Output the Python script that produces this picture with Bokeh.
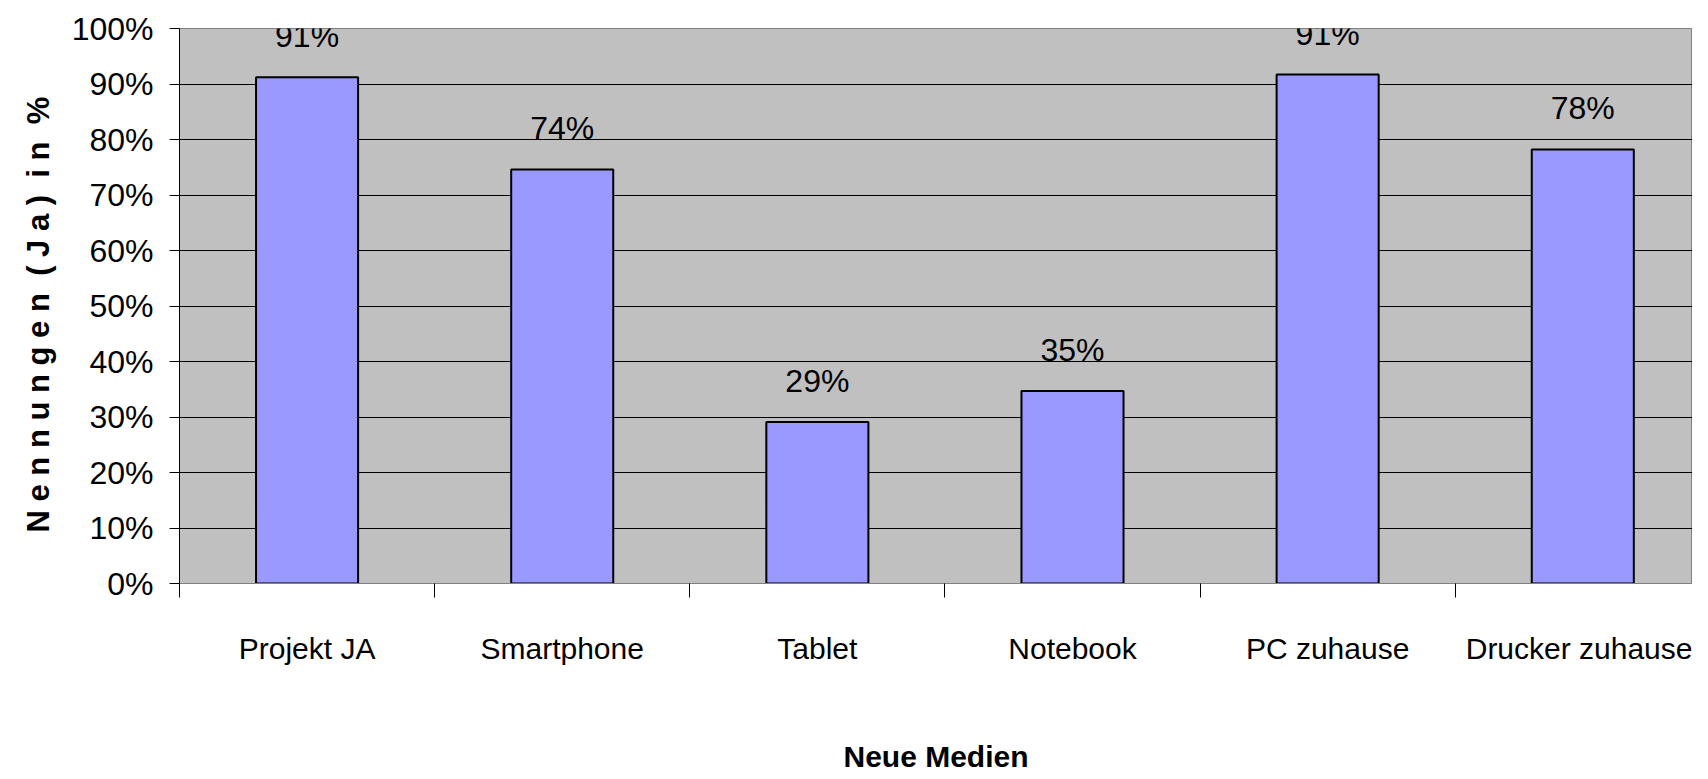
from bokeh.plotting import figure
from bokeh.models import ColumnDataSource, FixedTicker, Range1d, LabelSet
from bokeh.core.properties import value
from bokeh.embed import file_html
from bokeh.resources import INLINE

# ---- data ----
categories = ["Projekt JA", "Smartphone", "Tablet", "Notebook", "PC zuhause", "Drucker zuhause"]
values = [0.912, 0.746, 0.291, 0.347, 0.917, 0.782]
value_labels = ["91%", "74%", "29%", "35%", "91%", "78%"]
y_ticks = [0.0, 0.1, 0.2, 0.3, 0.4, 0.5, 0.6, 0.7, 0.8, 0.9, 1.0]
y_tick_labels = ["0%", "10%", "20%", "30%", "40%", "50%", "60%", "70%", "80%", "90%", "100%"]
x_title = "Neue Medien"
y_title = ("N\u00a0e\u00a0n\u00a0n\u00a0u\u00a0n\u00a0g\u00a0e\u00a0n\u00a0\u00a0(\u00a0J\u00a0a\u00a0)"
           "\u00a0\u00a0i\u00a0n\u00a0\u00a0%\u00a0\u00a0")

FONT = "Liberation Sans"

centers = [i + 0.5 for i in range(len(categories))]
src = ColumnDataSource(dict(x=centers, top=values, lab=value_labels))

p = figure(width=1692, height=779, output_backend="svg", toolbar_location=None,
           x_range=Range1d(0, 5.93), y_range=Range1d(0, 1),
           min_border_left=179, min_border_right=0, min_border_top=28, min_border_bottom=196)

p.background_fill_color = "#C0C0C0"
p.border_fill_color = "white"
p.outline_line_color = "#808080"
p.outline_line_width = 1

p.vbar(x="x", top="top", width=0.4, source=src, fill_color="#9999FF",
       line_color="black", line_width=2)

labels = LabelSet(x="x", y="top", text="lab", source=src, text_align="center",
                  text_baseline="alphabetic", y_offset=30, text_font=value(FONT),
                  text_font_size=value("32px"), text_color=value("black"), level="overlay")
p.add_layout(labels)

# y axis
p.yaxis.ticker = FixedTicker(ticks=y_ticks, minor_ticks=[])
p.yaxis.major_label_overrides = {t: l for t, l in zip(y_ticks, y_tick_labels)}
p.yaxis.major_label_text_font = FONT
p.yaxis.major_label_text_font_size = "32px"
p.yaxis.major_label_text_color = "black"
p.yaxis.major_tick_out = 10
p.yaxis.major_tick_in = 0
p.yaxis.major_tick_line_color = "black"
p.yaxis.major_label_standoff = 16
p.yaxis.axis_line_color = "black"
p.yaxis.axis_label = y_title
p.yaxis.axis_label_text_font = FONT
p.yaxis.axis_label_text_font_style = "bold"
p.yaxis.axis_label_text_font_size = "31px"
p.yaxis.axis_label_text_color = "black"
p.yaxis.axis_label_standoff = 13

# x axis
p.xaxis.ticker = FixedTicker(ticks=centers, minor_ticks=list(range(len(categories) + 1)))
p.xaxis.major_label_overrides = {c: n for c, n in zip(centers, categories)}
p.xaxis.major_label_text_font = FONT
p.xaxis.major_label_text_font_size = "30px"
p.xaxis.major_label_text_color = "black"
p.xaxis.major_tick_line_color = None
p.xaxis.major_tick_out = 0
p.xaxis.major_tick_in = 0
p.xaxis.minor_tick_out = 14
p.xaxis.minor_tick_in = 0
p.xaxis.minor_tick_line_color = "black"
p.xaxis.major_label_standoff = 34
p.xaxis.axis_line_color = "#808080"
p.xaxis.axis_label = x_title
p.xaxis.axis_label_text_font = FONT
p.xaxis.axis_label_text_font_style = "bold"
p.xaxis.axis_label_text_font_size = "30px"
p.xaxis.axis_label_text_color = "black"
p.xaxis.axis_label_standoff = 72

p.xgrid.grid_line_color = None
p.ygrid.ticker = FixedTicker(ticks=y_ticks[1:-1])
p.ygrid.grid_line_color = "black"
p.ygrid.grid_line_width = 1

open("out.html", "w").write(file_html(p, INLINE))
